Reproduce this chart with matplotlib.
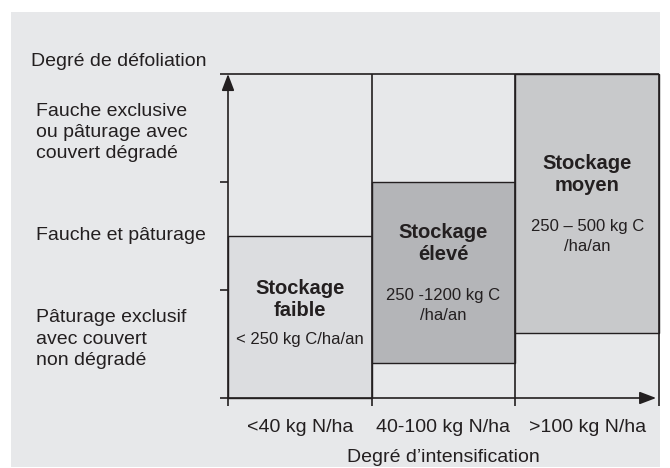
import matplotlib
matplotlib.use("Agg")
import matplotlib.pyplot as plt
from matplotlib.patches import Rectangle
from matplotlib.transforms import blended_transform_factory

# intensification classes (x) and defoliation bands (y)
x_labels = ["<40 kg N/ha", "40-100 kg N/ha", ">100 kg N/ha"]
y_labels = [
    "Pâturage exclusif\navec couvert\nnon dégradé",
    "Fauche et pâturage",
    "Fauche exclusive\nou pâturage avec\ncouvert dégradé",
]
y_label_pos = [0.546, 1.5, 2.46]

# storage boxes: bottom / top on defoliation scale (0-3)
box_bottom = [0.0, 0.32, 0.6]
box_top = [1.5, 2.0, 3.0]
box_title = ["Stockage\nfaible", "Stockage\nélevé", "Stockage\nmoyen"]
box_value = ["< 250 kg C/ha/an", "250 -1200 kg C\n/ha/an", "250 – 500 kg C\n/ha/an"]
box_title_y = [0.91, 1.435, 2.065]
box_value_y = [0.546, 0.856, 1.495]
box_colors = ["#dcdde0", "#b4b5b8", "#c8c9cb"]

BG = "#e7e8ea"
INK = "#231f20"
SANS = ["Liberation Sans", "DejaVu Sans"]

plt.rcParams["font.family"] = SANS

fig = plt.figure(figsize=(6.7, 4.68), dpi=100)
fig.patches.append(Rectangle((11 / 670, 1 / 468), 649 / 670, 455 / 468,
                             transform=fig.transFigure, facecolor=BG,
                             edgecolor="none", zorder=-10))

ax = fig.add_axes([228 / 670, 70 / 468, 431 / 670, 324 / 468])
ax.set_facecolor("none")
ax.set_xlim(0, 3)
ax.set_ylim(0, 3)

x = [0.5, 1.5, 2.5]
heights = [t - b for t, b in zip(box_top, box_bottom)]
ax.bar(x, heights, bottom=box_bottom, width=1.0, color=box_colors,
       edgecolor=INK, linewidth=1.0, zorder=1, clip_on=False)

# column separators and top border
ax.vlines([1, 2, 3], 0, 3, color=INK, linewidth=1.2, zorder=2, clip_on=False)
ax.hlines(3, 0, 3, color=INK, linewidth=1.2, zorder=2, clip_on=False)

for s in ax.spines.values():
    s.set_visible(False)

ax.set_xticks([0, 1, 2, 3])
ax.set_xticklabels([])
ax.set_yticks([0, 1, 2, 3])
ax.set_yticklabels([])
ax.tick_params(direction="out", length=6, width=1.2, color=INK)

# axes with arrows
arrow = dict(arrowstyle="-|>,head_length=1.0,head_width=0.38",
             color=INK, lw=1.2, shrinkA=0, shrinkB=0)
ax.annotate("", xy=(0, 3), xytext=(0, 0), arrowprops=arrow,
            annotation_clip=False, zorder=3)
ax.annotate("", xy=(2.98, 0), xytext=(0, 0), arrowprops=arrow,
            annotation_clip=False, zorder=3)

# category labels
for xi, lab in zip(x, x_labels):
    ax.text(xi, -0.27, lab, ha="center", va="center", fontsize=14, color=INK)
ax.text(1.5, -0.555, "Degré d’intensification", ha="center",
        va="center", fontsize=14, color=INK)

left = blended_transform_factory(fig.transFigure, ax.transData)
for yi, lab in zip(y_label_pos, y_labels):
    ax.text(36 / 670, yi, lab, transform=left, ha="left", va="center",
            fontsize=14, color=INK, linespacing=1.32)
ax.text(31 / 670, 3.12, "Degré de défoliation", transform=left, ha="left",
        va="center", fontsize=14, color=INK)

# box annotations
for xi, t, ty, v, vy in zip(x, box_title, box_title_y, box_value, box_value_y):
    ax.text(xi, ty, t, ha="center", va="center", fontsize=14.5,
            fontweight="bold", color=INK, linespacing=1.2)
    ax.text(xi, vy, v, ha="center", va="center", fontsize=12,
            color=INK, linespacing=1.45)

fig.savefig("out.png", dpi=100)
